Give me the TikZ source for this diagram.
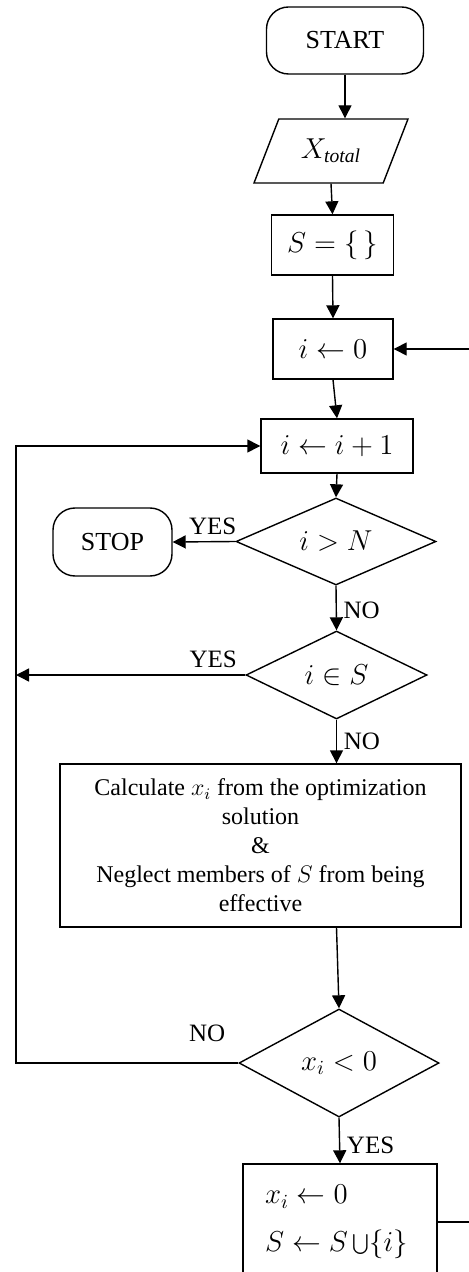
\documentclass[tikz,border=0pt]{standalone}
\usepackage{fontspec}
\setmainfont{Liberation Serif}
\usetikzlibrary{arrows.meta,shapes.geometric,calc}

\begin{document}
\begin{tikzpicture}[x=0.5pt,y=-0.5pt,
  every node/.style={font=\fontsize{12.5}{15}\selectfont},
  flow/.style={draw,line width=0.7pt},
  term/.style={flow,rounded corners=11pt,minimum width=78.5pt,minimum height=33.5pt,
    font=\fontsize{13}{16}\selectfont},
  io/.style={flow,trapezium,trapezium left angle=65,trapezium right angle=115,
    trapezium stretches=true,minimum width=77pt,minimum height=32pt,
    font=\fontsize{14}{17}\selectfont},
  proc/.style={flow,font=\fontsize{14}{17}\selectfont},
  decision/.style={flow,diamond,aspect=2.3,inner sep=0pt,font=\fontsize{14}{17}\selectfont},
  arr/.style={line width=0.7pt,-{Triangle[length=6.5pt,width=6.5pt]}}]
  %%%%% FRAME %%%%%
  \useasboundingbox (0,0) rectangle (469,1272);
  \clip (0,0) rectangle (469,1272);

  %%%%% BLOCKS %%%%%
  \node[term] (start) at (345,40.5) {START};
  \node[io] (xin) at (331,151) {$X_{\mathit{total}}$};
  \node[proc,minimum width=61pt,minimum height=30pt] (sset) at (332.5,245) {$S=\{\,\}$};
  \node[proc,minimum width=60pt,minimum height=30pt] (init) at (333,349) {$i\leftarrow 0$};
  \node[proc,minimum width=76pt,minimum height=27pt] (inc) at (337,446) {$i\leftarrow i+1$};
  \node[decision,minimum width=100pt,minimum height=43.5pt] (gtn) at (336,541.5) {$i>N$};
  \node[term,minimum width=59.5pt,minimum height=34pt] (stop) at (112.5,542) {STOP};
  \node[decision,minimum width=90.5pt,minimum height=44pt] (ins) at (336.5,675) {$i\in S$};
  \node[proc,minimum width=200.5pt,minimum height=81.5pt,align=center,
    font=\fontsize{12}{14.5}\selectfont] (calc) at (260.5,845.5)
    {Calculate $x_i$ from the optimization\\solution\\\&\\Neglect members of $S$ from being\\effective};
  \node[decision,minimum width=100pt,minimum height=54pt] (neg) at (339,1063) {$x_i<0$};
  \node[proc,minimum width=97pt,minimum height=58pt,text width=75pt,inner xsep=11pt,
    align=left,font=\fontsize{14}{24}\selectfont] (upd) at (340,1222)
    {$x_i\leftarrow 0$\\$S\leftarrow S\bigcup\bigl\{i\bigr\}$};
  \coordinate (lp) at (16,446);

  %%%%% ARROWS %%%%%
  \draw[arr] (start.south) -- (start.south |- xin.north);
  \draw[arr] (xin.south) -- (sset.north);
  \draw[arr] (sset.south) -- (init.north);
  \draw[arr] (init.south) -- (inc.north);
  \draw[arr] (inc.south) -- (gtn.north);
  \draw[arr] (gtn.west) -- node[above,pos=0.36] {YES} (stop.east);
  \draw[arr] (gtn.south) -- node[right,pos=0.55] {NO} (ins.north);
  \draw[arr] (ins.west) -- node[above,pos=0.14] {YES} (ins.west -| lp);
  \draw[arr] (ins.south) -- node[right,pos=0.5] {NO} (ins.south |- calc.north);
  \draw[arr] (calc.south -| ins.south) -- (neg.north);
  \draw[arr] (neg.west) -| node[above=7pt,pos=0.07] {NO} (lp) -- (inc.west);
  \draw[arr] (neg.south) -- node[right,pos=0.6] {YES} (upd.north);
  \draw[arr] (upd.east) -- ++(40,0) |- (init.east);
\end{tikzpicture}
\end{document}
